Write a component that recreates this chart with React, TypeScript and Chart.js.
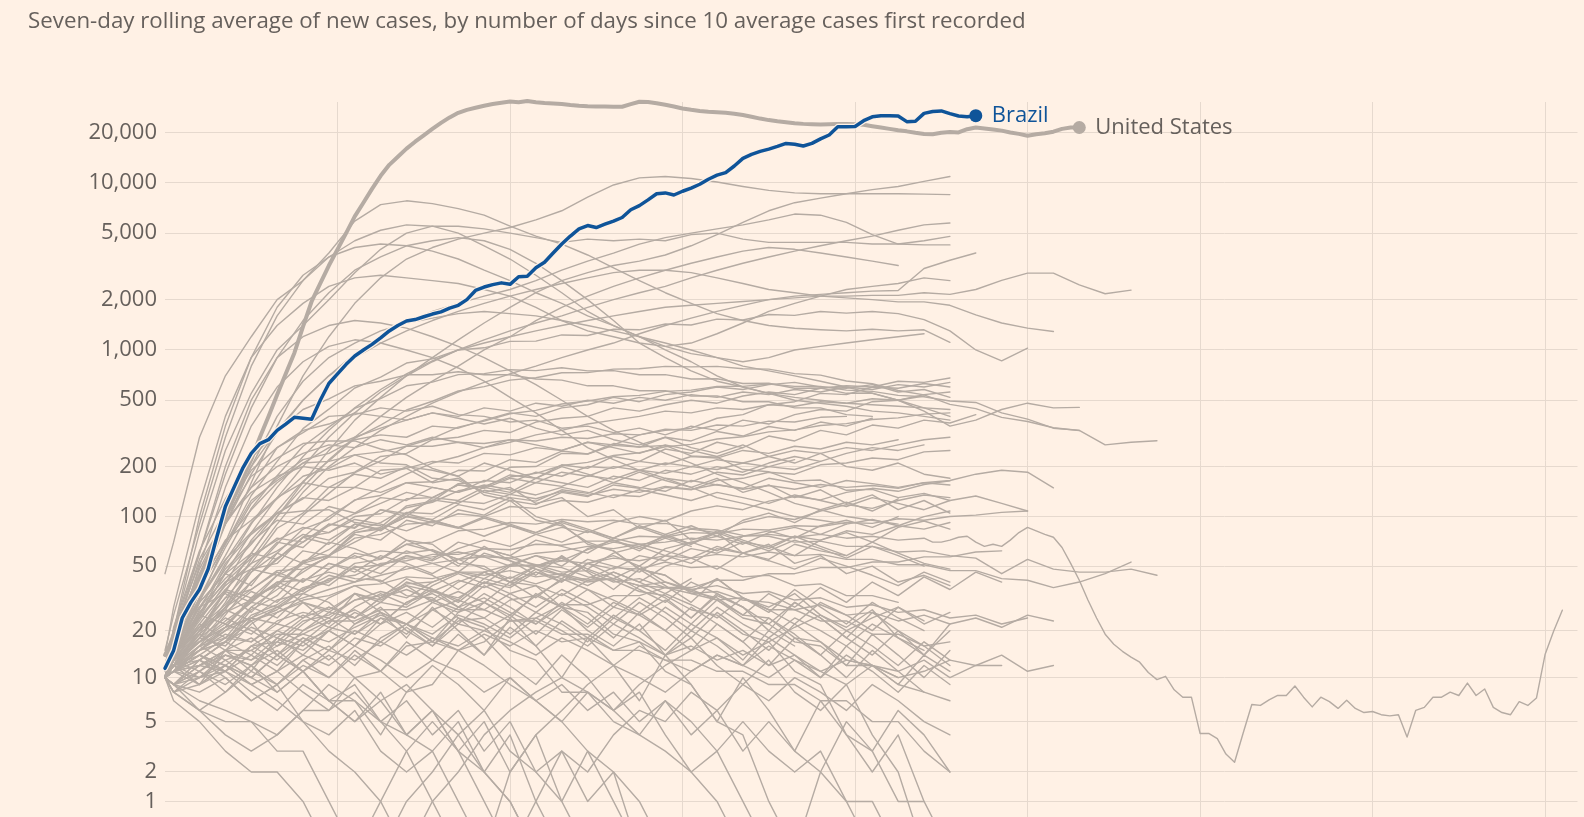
import React, { useEffect, useRef } from "react";
import { Chart, registerables } from "chart.js";

Chart.register(...registerables);

const TITLE =
  "Seven-day rolling average of new cases, by number of days since 10 average cases first recorded";

// y-axis tick values (cases) and x grid days
const yTickValues = [1, 2, 5, 10, 20, 50, 100, 200, 500, 1000, 2000, 5000, 10000, 20000];
const xGridDays = [20, 40, 60, 80, 100, 120, 140, 160];

// day grid shared by the background (grey) countries
const greyDays = [0, 1, 4, 7, 10, 13, 16, 19, 22, 25, 28, 31, 34, 37, 40, 43, 46, 49, 52, 55, 58, 61, 64, 67, 70, 73, 76, 79, 82, 85, 88, 91, 94, 97, 100, 103, 106, 109, 112, 115];

// highlighted countries: daily values from day 0
const brazilCases = [11.5, 15, 24, 30, 36, 48, 75, 115, 150, 195, 240, 275, 290, 330, 360, 395, 390, 385, 500, 630, 720, 820, 920, 1000, 1080, 1180, 1300, 1400, 1490, 1520, 1580, 1640, 1690, 1780, 1850, 2000, 2270, 2380, 2460, 2520, 2470, 2740, 2760, 3100, 3350, 3800, 4300, 4800, 5300, 5550, 5400, 5650, 5900, 6200, 6900, 7300, 7900, 8600, 8700, 8450, 8900, 9300, 9800, 10500, 11100, 11500, 12600, 14000, 14800, 15400, 15900, 16500, 17200, 17000, 16600, 17200, 18300, 19300, 21600, 21600, 21700, 23500, 24800, 25200, 25200, 25100, 23200, 23300, 26000, 26700, 26900, 25900, 25100, 24800, 25200];
const usCases = [14, 18, 24, 32, 42, 56, 75, 100, 130, 170, 220, 300, 400, 540, 720, 960, 1380, 1950, 2500, 3200, 4000, 5000, 6300, 7600, 9200, 11000, 12800, 14300, 16000, 17600, 19200, 21000, 22800, 24600, 26200, 27300, 28100, 28900, 29600, 30100, 30600, 30300, 30800, 30300, 30000, 29800, 29600, 29200, 28900, 28700, 28600, 28600, 28500, 28500, 29500, 30500, 30400, 29900, 29300, 28600, 27800, 27300, 26900, 26600, 26400, 26200, 25900, 25400, 24800, 24200, 23700, 23300, 23000, 22700, 22500, 22400, 22300, 22400, 22500, 22500, 22400, 22200, 21800, 21400, 21000, 20600, 20300, 19900, 19600, 19500, 19900, 20100, 20000, 20900, 21400, 21100, 20800, 20500, 20000, 19600, 19100, 19500, 19800, 20200, 21000, 21400, 21400];

// the longest grey series: head on the grey day grid, tail daily from day 89
const longHead = [10, 11, 16, 20, 24, 28, 32, 36, 40, 44, 48, 52, 55, 58, 56, 60, 62, 66, 64, 68, 70, 74, 72, 76, 78, 75, 78, 74, 76, 72, 74];
const longTailStart = 89;
const longTail = [70, 70, 72, 75, 76, 70, 66, 68, 66, 72, 80, 86, 82, 78, 75, 65, 52, 41, 31, 24, 19, 16.4, 14.8, 13.6, 12.6, 10.8, 9.7, 10.2, 8.3, 7.4, 7.4, 4.1, 4.1, 3.75, 2.84, 2.43, 4.13, 6.6, 6.5, 7.1, 7.6, 7.6, 8.8, 7.4, 6.35, 7.4, 6.9, 6.2, 7.05, 6.2, 5.8, 5.9, 5.6, 5.5, 5.6, 3.85, 6.0, 6.3, 7.4, 7.4, 8.0, 7.6, 9.2, 7.6, 8.4, 6.3, 5.8, 5.6, 6.9, 6.5, 7.3, 14.1, 19.9, 26.8];

// grey countries (values on greyDays)
const g01 = [45, 70, 300, 700, 1200, 2000, 2600, 3800, 5900, 7400, 7800, 7500, 7000, 6400, 5500, 4800, 4300, 3700, 3100, 2600, 2200, 1900, 1650, 1500, 1400, 1350, 1320, 1300, 1330, 1300, 1320, 1110];
const g02 = [12, 20, 80, 250, 550, 1000, 1400, 2000, 2900, 4000, 5000, 5500, 5500, 5300, 5000, 4700, 4400, 4600, 4500, 4600, 4500, 4900, 5000, 4600, 4400, 4400, 4400, 4400, 4300, 4300, 4250, 4250];
const g03 = [10, 13, 30, 70, 160, 350, 700, 1200, 1900, 2700, 3500, 4100, 4600, 5000, 5400, 6000, 6800, 8200, 9700, 10700, 10900, 10600, 10100, 9500, 9000, 8700, 8600, 8600, 8600, 8600, 8550, 8500];
const g04 = [10, 12, 20, 35, 60, 100, 160, 250, 380, 520, 700, 900, 1150, 1450, 1800, 2200, 2600, 2900, 3200, 3400, 3700, 4200, 4900, 5800, 6800, 7600, 8100, 8600, 9100, 9500, 10200, 10900];
const g05 = [10, 14, 25, 45, 80, 130, 200, 300, 420, 560, 700, 850, 1000, 1150, 1300, 1450, 1600, 1800, 2000, 2200, 2400, 2700, 3000, 3300, 3600, 3900, 4200, 4500, 4800, 5200, 5600, 5750];
const g06 = [14, 20, 45, 100, 200, 330, 500, 700, 950, 1200, 1450, 1700, 1900, 2100, 2300, 2600, 3000, 3400, 3800, 4300, 4700, 5000, 5300, 5600, 6000, 6500, 6400, 5800, 4900, 4300, 4500, 4780];
const g07 = [10, 11, 18, 30, 55, 90, 140, 200, 260, 330, 400, 480, 560, 640, 720, 800, 900, 1000, 1100, 1250, 1400, 1550, 1700, 1850, 2000, 2100, 2150, 2200, 2250, 2270, 3070, 3440, 3800];
const g08 = [10, 13, 25, 50, 90, 150, 230, 330, 450, 580, 720, 860, 1000, 1100, 1200, 1300, 1400, 1500, 1600, 1700, 1800, 1850, 1900, 1950, 2000, 2050, 2100, 2100, 2120, 2120, 2200, 2150, 2300, 2610, 2880, 2880, 2450, 2170, 2280];
const g09 = [12, 18, 40, 90, 180, 320, 500, 700, 900, 1100, 1300, 1500, 1700, 1900, 2100, 2300, 2500, 2700, 2900, 3000, 3000, 2900, 2700, 2500, 2300, 2200, 2100, 2050, 2000, 1940, 1940, 1850, 1620, 1450, 1350, 1290];
const g10 = [10, 15, 36, 68, 134, 215, 338, 442, 592, 688, 835, 885, 1000, 1030, 1125, 1130, 1230, 1220, 1330, 1320, 1430, 1410, 1530, 1510, 1630, 1610, 1700, 1660, 1700, 1650, 1520, 1300, 1000, 860, 1025];
const g11 = [10, 16, 31, 58, 112, 176, 265, 345, 447, 512, 610, 642, 712, 722, 762, 752, 782, 750, 752, 710, 712, 670, 672, 630, 632, 590, 592, 550, 552, 500, 430, 350, 380, 440, 480, 450, 453];
const g12 = [11, 14, 23, 39, 72, 108, 163, 216, 295, 355, 437, 493, 568, 603, 660, 682, 730, 732, 768, 772, 798, 792, 797, 772, 768, 722, 707, 652, 628, 572, 538, 472, 445, 395, 373, 342, 329];
const g13 = [10, 12, 19, 27, 46, 68, 102, 138, 184, 216, 265, 295, 345, 375, 415, 435, 475, 495, 525, 535, 565, 575, 605, 605, 625, 605, 605, 575, 565, 535, 525, 495, 485, 420, 385, 340, 330, 270, 280, 286];
const g14 = [10, 12, 17, 21, 32, 38, 54, 58, 80, 84, 106, 104, 124, 120, 136, 128, 142, 134, 146, 140, 152, 146, 156, 146, 154, 146, 156, 150, 154, 148, 160, 165, 180, 190, 185, 149];
const g15 = [10, 9, 13, 17, 27, 33, 48, 57, 80, 86, 116, 124, 158, 162, 198, 200, 240, 238, 268, 262, 268, 232, 228, 192, 186, 164, 166, 144, 146, 130, 138, 125, 133, 120, 108];
const g16 = [10, 11, 15, 17, 23, 27, 36, 40, 52, 55, 68, 70, 82, 84, 92, 90, 96, 93, 95, 90, 91, 85, 83, 77, 76, 70, 71, 66, 66, 61, 62, 58, 56, 45, 55, 48, 46, 46, 48, 44];
const g17 = [10, 8, 10, 11, 16, 17, 23, 25, 31, 33, 39, 40, 46, 46, 51, 50, 54, 52, 56, 54, 58, 56, 59, 57, 61, 58, 59, 55, 55, 51, 51, 47, 47, 42, 41, 37, 40, 45, 53];
const u01 = [15, 25, 90, 300, 800, 1600, 2600, 3600, 4500, 5200, 5600, 5500, 5000, 4200, 3500, 2800, 2200, 1700, 1400, 1200, 1000, 850, 700, 600, 550, 500, 480, 460, 430, 420, 400, 380];
const u02 = [12, 20, 60, 180, 450, 900, 1500, 2200, 3000, 3600, 4200, 4500, 4700, 4500, 4000, 3300, 2600, 2000, 1500, 1100, 900, 750, 650, 600, 550, 520, 500, 480, 470, 460, 450, 440];
const u03 = [14, 28, 120, 400, 900, 1400, 1900, 2400, 2700, 2800, 2700, 2600, 2500, 2300, 2100, 1800, 1500, 1300, 1200, 1100, 1050, 1100, 1250, 1450, 1700, 1900, 2100, 2300, 2400, 2500, 2700, 2600];
const u04 = [10, 20, 100, 350, 900, 1800, 2800, 3600, 4100, 4300, 4200, 3900, 3500, 3000, 2600, 2200, 1900, 1600, 1400, 1200, 1050, 950, 900, 850, 900, 1000, 1050, 1100, 1150, 1200, 1250];
const u05 = [10, 14, 35, 90, 200, 400, 650, 900, 1100, 1300, 1450, 1550, 1650, 1700, 1650, 1600, 1500, 1400, 1300, 1200, 1100, 1000, 900, 800, 750, 700, 650, 600, 550, 500, 450, 400];
const u08 = [10, 18, 60, 200, 500, 900, 1200, 1400, 1500, 1450, 1350, 1200, 1050, 900, 750, 620, 500, 400, 330, 280, 240, 210, 180, 160, 140, 120, 110, 100, 95, 90];
const u09 = [10, 16, 50, 150, 350, 600, 850, 1050, 1150, 1100, 1000, 900, 780, 650, 520, 420, 330, 260, 220, 190, 170, 150, 130, 120, 110, 100, 95, 90];
const u10 = [10, 12, 20, 35, 60, 100, 150, 220, 300, 400, 520, 650, 800, 1000, 1200, 1500, 1800, 2100, 2400, 2700, 3000, 3300, 3600, 3900, 4100, 4000, 3800, 3600, 3400, 3200];
const m01 = [10, 14, 32, 65, 120, 170, 220, 240, 290, 310, 300, 350, 340, 380, 420, 400, 450, 470, 520, 490, 540, 560, 600, 580, 620, 640, 600, 590, 620, 560, 580, 520];
const m02 = [10, 12, 24, 46, 68, 105, 128, 170, 185, 230, 240, 290, 300, 330, 320, 370, 390, 400, 450, 430, 470, 500, 480, 530, 560, 540, 590, 610, 600, 650, 640, 680];
const m03 = [10, 16, 42, 92, 150, 260, 320, 400, 410, 450, 430, 460, 410, 400, 370, 380, 340, 350, 320, 340, 310, 350, 330, 380, 360, 410, 440, 430, 490, 500, 540, 560];
const m04 = [10, 12, 19, 36, 52, 85, 105, 150, 150, 190, 195, 215, 210, 240, 235, 260, 250, 280, 270, 310, 330, 340, 390, 410, 470, 490, 550, 540, 600, 590, 630, 600];
const m05 = [10, 15, 36, 68, 125, 165, 210, 215, 235, 210, 205, 170, 165, 140, 130, 100, 90, 68, 62, 48, 44, 35, 32, 25, 24, 18, 17, 13, 12, 10];
const m06 = [10, 11, 16, 21, 32, 38, 52, 58, 74, 78, 90, 92, 104, 100, 115, 112, 125, 122, 135, 132, 150, 145, 165, 170, 185, 180, 205, 210, 225, 220, 245, 250];
const m07 = [10, 13, 27, 52, 78, 104, 108, 110, 92, 88, 72, 68, 52, 50, 40, 38, 28, 26, 19, 17, 11, 9, 5, 4, 1, 0];
const m08 = [10, 9, 7, 6, 5, 4, 6, 6, 10, 11, 16, 17, 23, 24, 31, 33, 41, 42, 49, 48, 53, 49, 50, 43, 44, 38, 39, 33, 33, 30];
const m09 = [10, 12, 17, 26, 31, 40, 41, 46, 42, 41, 33, 32, 24, 21, 15, 13, 8, 8, 5, 4, 3, 2, 1, 0];
const m10 = [10, 14, 21, 32, 36, 47, 48, 57, 56, 62, 60, 63, 55, 57, 50, 51, 46, 47, 40, 42, 37, 36, 31, 32, 27, 27, 23, 23, 19, 19, 16, 17];
const m11 = [10, 8, 6, 5, 5, 3, 3, 1, 0, 0, 1, 2, 4, 2, 1, 0];
const m12 = [10, 15, 31, 54, 92, 128, 175, 195, 235, 245, 265, 265, 280, 275, 290, 285, 300, 295, 315, 310, 335, 330, 355, 350, 375, 370, 395, 400];
const m13 = [10, 12, 15, 21, 24, 31, 34, 42, 44, 52, 54, 59, 59, 64, 63, 68, 67, 71, 71, 76, 75, 80, 79, 84, 83, 88, 87, 92, 91, 97, 95, 100, 102, 106, 108];
const m14 = [10, 11, 12, 15, 15, 19, 19, 23, 23, 27, 27, 31, 27, 27, 23, 23, 19, 19, 15, 15, 13, 13, 11, 11, 9, 9, 7, 7, 5, 5, 3, 2];
const m15 = [10, 17, 48, 98, 175, 225, 275, 285, 285, 255, 235, 195, 175, 135, 125, 95, 88, 70, 62, 48, 44, 34, 31, 24, 22, 17, 16, 12, 12, 9, 8, 7];
const m16 = [10, 13, 21, 27, 23, 14, 11, 7, 7, 4, 8, 9, 15, 17, 23, 24, 29, 29, 33, 33, 37, 37, 41, 41, 45, 45, 49, 49, 53, 53, 57, 57, 61, 62];
const m17 = [10, 11, 15, 17, 25, 29, 37, 41, 49, 51, 56, 57, 61, 57, 56, 51, 49, 43, 41, 35, 33, 27, 25, 19, 17, 11, 9, 4, 3, 1, 1, 0];
const m18 = [10, 21, 62, 128, 225, 325, 440, 510, 610, 650, 710, 710, 740, 710, 710, 670, 660, 610, 610, 570, 570, 530, 530, 490, 490, 450, 450, 410, 400];
const m19 = [10, 12, 17, 21, 31, 39, 53, 63, 82, 92, 113, 122, 143, 152, 173, 182, 203, 212, 233, 242, 263, 272, 293, 302, 323, 332, 353, 362, 383, 392, 413, 420];
const m20 = [10, 9, 12, 11, 14, 11, 17, 13, 18, 16, 21, 16, 22, 20, 25, 19, 27, 21, 28, 25, 31, 24, 33, 28];
const m21 = [10, 18, 55, 110, 190, 260, 330, 360, 420, 400, 380, 420, 390, 360, 390, 340, 310, 330, 290, 270, 300, 260, 240, 270, 230, 210, 240, 200, 190, 210, 180, 170];
const m22 = [10, 14, 26, 40, 48, 70, 65, 90, 85, 110, 100, 130, 125, 150, 140, 170, 160, 150, 175, 165, 190, 180, 200, 185, 210, 230, 215, 240, 260, 250, 270];
const m23 = [10, 12, 18, 16, 24, 22, 30, 26, 34, 30, 40, 36, 28, 32, 26, 22, 28, 20, 16, 22, 14, 18, 12, 9, 13, 8, 6, 9, 4, 2, 0];
const m24 = [10, 16, 38, 72, 95, 130, 160, 150, 180, 170, 200, 190, 175, 210, 190, 170, 200, 180, 160, 185, 165, 150, 170, 140, 155, 130, 145, 120, 135, 110, 125, 105];
const m25 = [10, 11, 14, 18, 17, 23, 26, 24, 31, 35, 32, 40, 46, 42, 51, 58, 54, 63, 70, 66, 76, 84, 80, 92, 100, 96, 108, 118, 112, 125, 135, 130];
const m26 = [10, 13, 22, 35, 30, 44, 52, 48, 60, 56, 68, 62, 55, 64, 58, 50, 57, 48, 42, 50, 40, 35, 42, 32, 28, 34, 25, 21, 27, 18, 15];
const m27 = [10, 20, 52, 95, 140, 175, 200, 190, 210, 180, 195, 160, 170, 140, 150, 120, 130, 100, 110, 85, 95, 72, 80, 60, 68, 52, 58, 45, 50, 40, 44, 38];
const m28 = [10, 9, 11, 8, 12, 9, 13, 10, 15, 11, 17, 13, 19, 14, 21, 16, 23, 18, 25, 20, 28, 22, 31, 25, 34, 28, 37, 30, 40, 33, 43, 36, 46, 40];
const m29 = [10, 14, 28, 48, 70, 95, 90, 115, 105, 130, 125, 150, 140, 165, 160, 185, 175, 200, 195, 215, 205, 230, 225, 250, 240, 265, 255, 280, 270, 290];
const m30 = [10, 12, 10, 14, 12, 8, 11, 7, 9, 5, 7, 4, 6, 3, 5, 2, 3, 1, 2, 0];
const m31 = [10, 15, 24, 38, 52, 62, 78, 72, 90, 84, 100, 92, 85, 98, 88, 80, 92, 82, 74, 86, 76, 68, 80, 70, 62, 72, 64, 56, 66, 58, 50];
const m32 = [10, 11, 16, 25, 40, 55, 75, 100, 125, 150, 180, 210, 230, 260, 280, 310, 330, 360, 380, 400, 430, 420, 450, 440, 470, 460, 490, 480, 510, 500, 530];
const m33 = [10, 13, 30, 45, 38, 60, 52, 70, 64, 55, 72, 62, 50, 66, 54, 44, 58, 46, 36, 48, 38, 30, 42, 32, 26, 36, 28, 22, 30, 24, 20];
const m34 = [10, 8, 9, 12, 10, 14, 18, 15, 22, 26, 22, 30, 35, 30, 40, 46, 40, 52, 58, 50, 64, 70, 62, 76, 82, 74, 88, 95, 86, 100];
const m35 = [10, 12, 20, 28, 48, 52, 75, 80, 100, 104, 128, 130, 155, 150, 178, 170, 205, 195, 230, 215, 255, 240, 280, 260, 305, 285, 330, 310, 355, 340, 380, 365, 410];
const m36 = [10, 7, 5, 3, 2, 2, 1, 0, 0, 1, 3, 5, 3, 1, 0];
const m37 = [10, 9, 6, 4, 3, 4, 6, 9, 7, 5, 3, 1, 0, 0, 2, 4, 6, 9, 12, 10, 8, 11, 14, 12, 16, 13, 10, 14, 11, 8, 12, 9];
const m38 = [10, 11, 13, 11, 9, 7, 5, 3, 2, 1, 0, 1, 2, 4, 6, 8, 10, 8, 6, 9, 12, 15, 18, 14, 17, 21, 25, 20, 24, 28, 22, 26];
const m39 = [10, 13, 18, 24, 20, 16, 22, 28, 24, 32, 38, 30, 26, 34, 28, 22, 30, 24, 18, 26, 20, 15, 22, 17, 12, 18, 14, 10, 15, 11, 8];
const m40 = [10, 15, 25, 22, 30, 40, 35, 48, 58, 50, 62, 55, 70, 64, 58, 72, 66, 60, 74, 68, 62, 56, 66, 60, 54, 48, 56, 50, 44, 38, 46, 40];
const m41 = [10, 12, 9, 15, 11, 18, 14, 20, 16, 24, 19, 27, 22, 30, 25, 33, 28, 36, 31, 26, 34, 29, 24, 32, 27, 22, 30, 25, 20, 28, 23];
const m42 = [10, 16, 28, 34, 26, 38, 30, 22, 34, 26, 18, 28, 20, 14, 24, 16, 10, 18, 12, 7, 14, 9, 5, 10, 6, 3, 7, 4, 2, 4, 1];
const m43 = [10, 14, 21, 29, 46, 60, 84, 96, 126, 134, 160, 162, 190, 188, 220, 212, 248, 238, 275, 262, 300, 285, 325, 305, 348, 330, 370, 350, 390];
const m44 = [10, 9, 13, 17, 14, 20, 25, 21, 28, 34, 29, 38, 45, 39, 50, 58, 50, 64, 72, 62, 78, 88, 76, 95, 105, 92, 110, 122, 108, 128];
const m45 = [10, 11, 14, 12, 9, 11, 8, 6, 8, 5, 4, 6, 3, 2, 4, 1, 0];
const m46 = [10, 12, 16, 18, 23, 26, 31, 33, 38, 39, 43, 42, 46, 44, 47, 43, 45, 41, 42, 38, 37, 34, 35, 31, 30, 27, 29, 25, 26, 23, 25, 22, 24, 21, 25, 23];
const m47 = [10, 11, 9, 12, 10, 14, 11, 15, 13, 17, 14, 18, 15, 19, 16, 20, 17, 18, 15, 17, 14, 16, 13, 15, 12, 14, 11, 13, 12, 11, 13, 10, 12, 14, 11, 12];
const m48 = [10, 13, 17, 22, 19, 26, 30, 27, 34, 31, 38, 35, 41, 37, 43, 39, 44, 40, 42, 38, 40, 36, 38, 34, 35, 31, 32, 28, 29, 26, 27, 24, 25, 22, 24];
const m49 = [10, 12, 14, 11, 16, 13, 18, 15, 20, 17, 22, 18, 16, 20, 17, 14, 18, 15, 12, 16, 13, 11, 14, 12, 10, 13, 11, 9, 12, 10, 11, 13, 12, 12];
const n01 = [10, 13, 20, 26, 35, 30, 42, 38, 50, 45, 58, 52, 46, 60, 54, 48, 40, 52, 44, 36, 30, 40, 34, 28, 22, 30, 24, 18, 14, 20, 16, 12];
const n02 = [10, 9, 11, 14, 12, 17, 15, 20, 26, 22, 30, 36, 31, 42, 38, 48, 44, 55, 50, 46, 58, 52, 64, 60, 55, 68, 62, 58];
const n03 = [10, 12, 16, 13, 10, 8, 11, 7, 5, 8, 4, 3, 5, 2, 1, 0];
const n04 = [10, 14, 22, 18, 28, 24, 34, 30, 22, 28, 20, 16, 24, 18, 12, 9, 14, 10, 6, 8, 4, 2, 3, 1, 0, 0, 2, 5, 3, 6, 4, 2];
const n05 = [10, 11, 15, 20, 28, 36, 46, 58, 70, 84, 100, 96, 118, 110, 130, 124, 145, 138, 160, 150, 142, 165, 155, 148, 170, 160, 150, 165, 158, 150, 160, 155];
const n06 = [10, 16, 30, 45, 60, 55, 75, 68, 90, 82, 104, 95, 86, 100, 90, 80, 94, 84, 74, 88, 78, 68, 82, 72, 64, 76, 66, 58, 70, 60, 52, 48];
const n07 = [10, 8, 6, 8, 11, 9, 13, 16, 12, 18, 22, 17, 26, 30, 24, 34, 28, 22, 30, 25, 20, 28, 22, 17, 24, 19, 14, 20, 16, 12, 17, 13];
const n08 = [10, 12, 18, 28, 40, 56, 70, 88, 104, 120, 140, 130, 155, 148, 170, 160, 185, 175, 200, 190, 210, 200, 220, 210, 230, 250, 240, 260, 250, 270, 290, 300];
const n09 = [10, 11, 13, 10, 7, 9, 5, 4, 6, 3, 2, 3, 1, 0, 0, 1, 3, 2, 4, 6, 5, 8, 6, 9, 7, 10, 8, 6, 9, 7, 5, 4];
const n10 = [10, 15, 28, 42, 58, 72, 86, 80, 96, 90, 82, 94, 86, 76, 88, 78, 70, 82, 72, 64, 74, 66];
const n11 = [10, 13, 17, 23, 30, 28, 36, 44, 40, 50, 58, 54, 64, 72, 66, 78, 86, 80, 92, 100, 94, 108, 116, 110, 124, 132, 126, 140, 148, 142, 156, 164];
const n12 = [10, 9, 8, 10, 7, 9, 12, 10, 14, 11, 8, 12, 9, 6, 10, 7, 5, 8, 6, 4, 7, 5, 3, 5, 3, 2, 3, 1, 1, 0];
const n13 = [10, 18, 45, 90, 150, 200, 240, 270, 260, 290, 270, 300, 280, 260, 290, 270, 250, 280, 260, 240, 270, 250, 230, 260];
const n14 = [10, 12, 15, 19, 17, 22, 20, 26, 24, 30, 28, 35, 32, 40, 37, 46, 42, 52, 48, 58, 54, 64, 60, 70, 66, 76, 72, 82, 78, 88, 84, 92];
const n15 = [10, 14, 24, 36, 32, 44, 40, 52, 48, 40, 50, 44, 36, 46, 40, 32, 42, 36, 28, 38, 32, 24, 34, 28, 20, 30, 24, 18, 26, 20, 14, 22];
const n16 = [10, 11, 10, 13, 15, 12, 17, 20, 16, 22, 26, 21, 28, 24, 19, 26, 22, 17, 24, 20, 15, 22, 18, 13, 20, 16];
const n17 = [10, 20, 40, 70, 110, 160, 210, 260, 300, 340, 380, 420, 400, 450, 430, 480, 460, 500, 480, 520, 500, 540, 520, 560, 540, 580, 560, 600, 580, 620, 600, 640];
const n18 = [10, 9, 12, 15, 13, 18, 16, 21, 19, 24, 22, 19, 25, 22, 18, 24, 20, 16, 22, 18, 14, 20, 16, 12, 18, 14, 10, 16, 12, 9, 14, 11];
const n19 = [10, 13, 11, 15, 18, 14, 20, 24, 19, 26, 22, 17, 15, 12, 9, 7, 5, 3, 2, 1, 0];
const n20 = [10, 12, 20, 32, 48, 44, 62, 58, 78, 72, 95, 88, 110, 102, 125, 118, 140, 132, 155, 148, 170, 162, 185, 178, 200, 192, 215];
const n21 = [10, 11, 14, 12, 16, 20, 17, 23, 27, 22, 30, 34, 28, 38, 32, 26, 34, 28, 22, 30, 24, 18, 26, 20, 15, 22, 17, 12, 19, 14, 10, 15];
const n22 = [10, 15, 26, 40, 56, 74, 70, 90, 86, 110, 104, 126, 120, 144, 136, 160, 152, 176, 168, 190, 182, 200, 192, 210, 200, 220];
const n23 = [10, 8, 11, 9, 12, 15, 11, 14, 10, 7, 9, 6, 4, 6, 3, 2, 1, 0];
const n24 = [10, 12, 13, 17, 21, 18, 24, 28, 24, 32, 36, 31, 40, 46, 40, 50, 56, 48, 60, 66, 58, 70, 76, 68, 80, 86, 78, 90, 96, 88, 100, 108];
const n25 = [10, 14, 20, 28, 36, 46, 40, 52, 46, 58, 52, 45, 55, 48, 42, 50, 44, 38, 46, 40, 34, 42];
const n26 = [10, 9, 10, 12, 9, 11, 14, 12, 16, 13, 10, 13, 11, 8, 10, 7, 9, 6, 8, 5, 7, 4, 6, 3, 5, 3, 2, 1, 0];
const n27 = [10, 16, 32, 55, 80, 105, 130, 125, 150, 140, 160, 150, 140, 155, 145, 135, 150, 140, 130, 145, 135, 125, 140, 130, 120, 135, 125, 115, 130, 120, 110, 125];
const n28 = [10, 11, 12, 14, 13, 16, 19, 17, 21, 25, 22, 27, 31, 27, 34, 38, 33, 41, 46, 40, 50, 56, 48, 60, 66, 58, 72, 80, 70, 86, 94, 84];
const n29 = [10, 13, 19, 15, 22, 28, 24, 32, 38, 32, 42, 36, 30, 40, 34, 28, 36, 30, 24, 32, 26, 20, 28, 22, 18, 24, 20, 16, 22, 18, 14, 20];
const n30 = [10, 12, 9, 11, 8, 6, 9, 7, 5, 7, 4, 6, 3, 5, 2, 4, 1, 3, 1, 0];

const greyLines = [
  g01, g02, g03, g04, g05, g06, g07, g08, g09, g10, g11, g12, g13, g14, g15, g16, g17,
  u01, u02, u03, u04, u05, u08, u09, u10,
  m01, m02, m03, m04, m05, m06, m07, m08, m09, m10, m11, m12, m13, m14, m15, m16, m17, m18, m19, m20,
  m21, m22, m23, m24, m25, m26, m27, m28, m29, m30, m31, m32, m33, m34, m35, m36, m37, m38, m39, m40,
  m41, m42, m43, m44, m45, m46, m47, m48, m49,
  n01, n02, n03, n04, n05, n06, n07, n08, n09, n10, n11, n12, n13, n14, n15,
  n16, n17, n18, n19, n20, n21, n22, n23, n24, n25, n26, n27, n28, n29, n30,
];

const BG = "#FFF1E5";
const TEXT = "#66605C";
const GRID = "#E6D9CE";
const GREY = "#B5ABA3";
const BLUE = "#0F5499";
const FONT = "'Open Sans', sans-serif";

const toY = (v: number) => Math.log10(v + 1);

export default function App() {
  const ref = useRef<HTMLCanvasElement>(null);

  useEffect(() => {
    const canvas = ref.current;
    if (!canvas) return;

    const onGrid = (vals: number[]) => vals.map((v, i) => ({ x: greyDays[i], y: toY(v) }));
    const fromDay = (start: number, vals: number[]) => vals.map((v, i) => ({ x: start + i, y: toY(v) }));
    const base = {
      pointRadius: 0,
      tension: 0,
      fill: false,
      clip: false as const,
      borderJoinStyle: "round" as const,
      borderCapStyle: "round" as const,
    };

    const datasets: any[] = [
      {
        ...base,
        label: "Brazil",
        data: fromDay(0, brazilCases),
        borderColor: BLUE,
        borderWidth: 3.5,
        pointRadius: (c: any) => (c.dataIndex === brazilCases.length - 1 ? 6.5 : 0),
        pointBackgroundColor: BLUE,
        pointBorderWidth: 0,
      },
      { ...base, label: "Brazil halo", data: fromDay(0, brazilCases), borderColor: BG, borderWidth: 6 },
      {
        ...base,
        label: "United States",
        data: fromDay(0, usCases),
        borderColor: GREY,
        borderWidth: 4,
        pointRadius: (c: any) => (c.dataIndex === usCases.length - 1 ? 6.5 : 0),
        pointBackgroundColor: GREY,
        pointBorderWidth: 0,
      },
      {
        ...base,
        label: "long",
        data: [...onGrid(longHead), ...fromDay(longTailStart, longTail)],
        borderColor: GREY,
        borderWidth: 1.4,
      },
      ...greyLines.map((vals, i) => ({
        ...base,
        label: "grey" + i,
        data: onGrid(vals),
        borderColor: GREY,
        borderWidth: 1.4,
      })),
    ];

    const endLabels = {
      id: "endLabels",
      afterDatasetsDraw(chart: any) {
        const ctx = chart.ctx;
        const defs = [
          { index: 0, text: "Brazil", color: BLUE },
          { index: 2, text: "United States", color: TEXT },
        ];
        defs.forEach((d) => {
          const meta = chart.getDatasetMeta(d.index);
          const pt = meta.data[meta.data.length - 1];
          if (!pt) return;
          ctx.save();
          ctx.font = `22px ${FONT}`;
          ctx.fillStyle = d.color;
          ctx.textAlign = "left";
          ctx.textBaseline = "middle";
          ctx.fillText(d.text, pt.x + 16, pt.y);
          ctx.restore();
        });
      },
    };

    const chart = new Chart(canvas, {
      type: "line",
      data: { datasets },
      options: {
        animation: false,
        responsive: false,
        events: [],
        layout: { padding: { top: 102, left: 0, right: 0, bottom: 0 } },
        plugins: {
          legend: { display: false },
          tooltip: { enabled: false },
          title: { display: false },
        },
        scales: {
          x: {
            type: "linear",
            min: 0,
            max: 163.76,
            afterBuildTicks: (s: any) => {
              s.ticks = xGridDays.map((v) => ({ value: v }));
            },
            afterFit: (s: any) => {
              s.height = 0;
              s.paddingLeft = 0;
              s.paddingRight = 0;
            },
            ticks: { display: false },
            grid: { color: GRID, lineWidth: 1, drawTicks: false },
            border: { display: false },
          },
          y: {
            type: "linear",
            min: 0.199,
            max: 4.483,
            afterBuildTicks: (s: any) => {
              s.ticks = yTickValues.map((v) => ({ value: toY(v) }));
            },
            afterFit: (s: any) => {
              s.width = 165;
              s.paddingTop = 0;
              s.paddingBottom = 0;
            },
            ticks: {
              autoSkip: false,
              padding: 8,
              color: TEXT,
              font: { family: FONT, size: 22 },
              callback: (_v: any, i: number) => yTickValues[i].toLocaleString("en-US"),
            },
            grid: { color: GRID, lineWidth: 1, drawTicks: false },
            border: { display: false },
          },
        },
      },
      plugins: [endLabels],
    });

    return () => chart.destroy();
  }, []);

  return (
    <div
      style={{
        position: "absolute",
        left: 0,
        top: 0,
        width: 1584,
        height: 817,
        background: BG,
        overflow: "hidden",
      }}
    >
      <canvas ref={ref} width={1584} height={825} style={{ display: "block" }} />
      <div
        style={{
          position: "absolute",
          left: 28,
          top: 7,
          fontFamily: FONT,
          fontSize: 22.3,
          lineHeight: "26px",
          color: TEXT,
          whiteSpace: "nowrap",
        }}
      >
        {TITLE}
      </div>
    </div>
  );
}
